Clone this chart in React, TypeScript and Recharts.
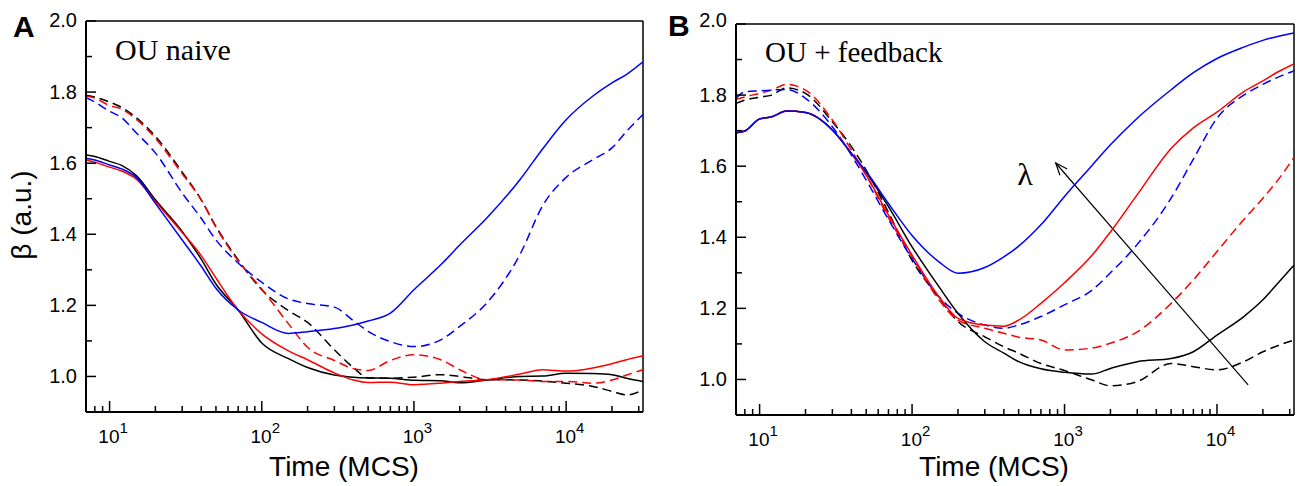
import { LineChart, Line, XAxis, YAxis, ReferenceLine } from "recharts";

const SANS = "'Liberation Sans', Arial, Helvetica, sans-serif";
const SERIF = "'Liberation Serif', 'Times New Roman', serif";

// time grid (MCS), shared by every curve
const time = [7, 8, 10, 12, 15, 20, 30, 40, 50, 70, 100, 150, 200, 300, 400, 500, 700, 1000, 1500, 2000, 3000, 5000, 7000, 10000, 15000, 20000, 25000, 32000];

// panel A: OU naive
const naiveBlack = [1.623, 1.619, 1.605, 1.594, 1.565, 1.497, 1.408, 1.33, 1.26, 1.187, 1.094, 1.05, 1.025, 1.004, 0.998, 0.996, 0.995, 0.989, 0.988, 0.982, 0.99, 1.0, 1.001, 1.009, 1.008, 1.005, 0.995, 0.986];
const naiveRed = [1.61, 1.603, 1.589, 1.578, 1.555, 1.492, 1.405, 1.34, 1.277, 1.187, 1.12, 1.072, 1.047, 1.01, 0.99, 0.983, 0.984, 0.977, 0.981, 0.986, 0.991, 1.007, 1.019, 1.015, 1.024, 1.036, 1.047, 1.058];
const naiveBlue = [1.614, 1.609, 1.595, 1.584, 1.56, 1.487, 1.384, 1.31, 1.248, 1.187, 1.152, 1.121, 1.126, 1.135, 1.145, 1.156, 1.178, 1.244, 1.314, 1.37, 1.445, 1.555, 1.64, 1.722, 1.789, 1.826, 1.85, 1.885];
const naiveBlackDash = [1.791, 1.786, 1.772, 1.757, 1.728, 1.676, 1.575, 1.497, 1.422, 1.328, 1.244, 1.185, 1.152, 1.075, 1.025, 0.996, 0.995, 0.998, 1.005, 1.0, 0.991, 0.99, 0.987, 0.981, 0.972, 0.958, 0.948, 0.962];
const naiveRedDash = [1.789, 1.783, 1.762, 1.752, 1.723, 1.67, 1.57, 1.497, 1.42, 1.325, 1.246, 1.148, 1.082, 1.045, 1.022, 1.017, 1.045, 1.061, 1.047, 1.019, 0.991, 0.99, 0.986, 0.986, 0.981, 0.99, 1.004, 1.019];
const naiveBlueDash = [1.784, 1.772, 1.746, 1.728, 1.685, 1.629, 1.516, 1.445, 1.384, 1.319, 1.265, 1.218, 1.205, 1.195, 1.157, 1.127, 1.098, 1.084, 1.103, 1.141, 1.206, 1.345, 1.48, 1.56, 1.61, 1.643, 1.69, 1.737];

// panel B: OU + feedback
const fbBlack = [1.694, 1.699, 1.733, 1.739, 1.755, 1.751, 1.702, 1.636, 1.582, 1.486, 1.373, 1.261, 1.186, 1.106, 1.074, 1.05, 1.03, 1.02, 1.015, 1.031, 1.05, 1.059, 1.078, 1.125, 1.177, 1.224, 1.27, 1.322];
const fbRed = [1.694, 1.699, 1.733, 1.739, 1.755, 1.751, 1.702, 1.636, 1.575, 1.462, 1.35, 1.233, 1.172, 1.153, 1.15, 1.167, 1.214, 1.272, 1.347, 1.415, 1.52, 1.65, 1.708, 1.752, 1.81, 1.84, 1.865, 1.888];
const fbBlue = [1.694, 1.699, 1.733, 1.739, 1.755, 1.751, 1.702, 1.636, 1.585, 1.495, 1.405, 1.331, 1.299, 1.315, 1.345, 1.375, 1.435, 1.515, 1.6, 1.66, 1.735, 1.815, 1.863, 1.903, 1.935, 1.954, 1.965, 1.975];
const fbBlackDash = [1.777, 1.786, 1.794, 1.8, 1.82, 1.805, 1.725, 1.655, 1.589, 1.47, 1.335, 1.23, 1.163, 1.12, 1.092, 1.074, 1.045, 1.025, 0.999, 0.982, 0.994, 1.045, 1.036, 1.027, 1.05, 1.078, 1.095, 1.111];
const fbRedDash = [1.788, 1.795, 1.805, 1.814, 1.83, 1.814, 1.73, 1.645, 1.575, 1.455, 1.345, 1.224, 1.167, 1.144, 1.13, 1.119, 1.111, 1.083, 1.088, 1.102, 1.134, 1.214, 1.28, 1.36, 1.45, 1.51, 1.56, 1.625];
const fbBlueDash = [1.791, 1.809, 1.812, 1.814, 1.816, 1.791, 1.711, 1.631, 1.561, 1.45, 1.34, 1.233, 1.186, 1.153, 1.144, 1.153, 1.177, 1.21, 1.25, 1.3, 1.38, 1.51, 1.62, 1.735, 1.8, 1.83, 1.85, 1.868];

const xTicks = [7, 8, 9, 10, 20, 30, 40, 50, 60, 70, 80, 90, 100, 200, 300, 400, 500, 600, 700, 800, 900, 1000, 2000, 3000, 4000, 5000, 6000, 7000, 8000, 9000, 10000, 20000, 30000];
const yTicks = [1.0, 1.1, 1.2, 1.3, 1.4, 1.5, 1.6, 1.7, 1.8, 1.9, 2.0];

// arrow in panel B, from tail to head (time, beta)
const lambdaArrow = [{ x: 16000, y: 0.985 }, { x: 875, y: 1.609 }];

function makeRows(s: number[][]) {
  return time.map((t, i) => ({
    t,
    black: s[0][i],
    red: s[1][i],
    blue: s[2][i],
    blackDash: s[3][i],
    redDash: s[4][i],
    blueDash: s[5][i],
  }));
}

const rowsA = makeRows([naiveBlack, naiveRed, naiveBlue, naiveBlackDash, naiveRedDash, naiveBlueDash]);
const rowsB = makeRows([fbBlack, fbRed, fbBlue, fbBlackDash, fbRedDash, fbBlueDash]);

function XTick(props: any) {
  const { x, y, payload } = props;
  const lg = Math.log10(payload.value);
  const exp = Math.round(lg);
  const major = Math.abs(lg - exp) < 1e-9;
  return (
    <g>
      <line x1={x} x2={x} y1={y} y2={y - (major ? 11 : 6)} stroke="#000" strokeWidth={1.5} />
      {major && (
        <text x={x + 3.5} y={y + 31} textAnchor="middle" fontSize={19} fontFamily={SANS} fill="#000">
          10
          <tspan fontSize={15} dy={-10}>{exp}</tspan>
        </text>
      )}
    </g>
  );
}

// the top label sits a bit above the frame in the original
const makeYTick = (topShift: number) => (props: any) => {
  const { x, y, payload } = props;
  const v = payload.value;
  const major = Math.abs(v * 5 - Math.round(v * 5)) < 1e-6;
  const dy = v >= 2 ? 7 - topShift : 7;
  return (
    <g>
      <line x1={x} x2={x + (major ? 10 : 6)} y1={y} y2={y} stroke="#000" strokeWidth={1.5} />
      {major && (
        <text x={x - 9} y={y + dy} textAnchor="end" fontSize={20} fontFamily={SANS} fill="#000">
          {v.toFixed(1)}
        </text>
      )}
    </g>
  );
};

function Arrow(props: any) {
  const { x1, y1, x2, y2 } = props;
  const a = Math.atan2(y2 - y1, x2 - x1);
  const len = 13;
  const spread = 0.38;
  const p1 = [x2 - len * Math.cos(a - spread), y2 - len * Math.sin(a - spread)];
  const p2 = [x2 - len * Math.cos(a + spread), y2 - len * Math.sin(a + spread)];
  return (
    <g stroke="#000" strokeWidth={1.2} fill="none">
      <line x1={x1} y1={y1} x2={x2} y2={y2} />
      <polyline points={`${p1[0]},${p1[1]} ${x2},${y2} ${p2[0]},${p2[1]}`} />
    </g>
  );
}

function Panel({ rows, margin, arrow, topShift }: { rows: any[]; margin: any; arrow?: boolean; topShift: number }) {
  return (
    <LineChart width={650} height={486} data={rows} margin={margin}>
      <XAxis
        dataKey="t"
        type="number"
        scale="log"
        domain={[7, 32000]}
        allowDataOverflow
        ticks={xTicks}
        interval={0}
        height={30}
        tickSize={0}
        tickMargin={0}
        tickLine={false}
        tick={XTick}
        axisLine={{ stroke: "#000", strokeWidth: 2 }}
      />
      <YAxis
        type="number"
        domain={[0.9, 2.0]}
        allowDataOverflow
        ticks={yTicks}
        interval={0}
        width={30}
        tickSize={0}
        tickMargin={0}
        tickLine={false}
        tick={makeYTick(topShift)}
        axisLine={{ stroke: "#000", strokeWidth: 2 }}
      />
      <ReferenceLine y={2.0} stroke="#000" strokeWidth={1.5} />
      <ReferenceLine x={32000} stroke="#000" strokeWidth={1.5} />
      {arrow && <ReferenceLine segment={lambdaArrow} shape={Arrow} />}
      <Line dataKey="blackDash" stroke="#000" strokeWidth={1.5} strokeDasharray="9 5" type="monotone" dot={false} isAnimationActive={false} />
      <Line dataKey="redDash" stroke="#ff0000" strokeWidth={1.5} strokeDasharray="9 5" type="monotone" dot={false} isAnimationActive={false} />
      <Line dataKey="blueDash" stroke="#0000ff" strokeWidth={1.5} strokeDasharray="9 5" type="monotone" dot={false} isAnimationActive={false} />
      <Line dataKey="black" stroke="#000" strokeWidth={1.5} type="monotone" dot={false} isAnimationActive={false} />
      <Line dataKey="red" stroke="#ff0000" strokeWidth={1.5} type="monotone" dot={false} isAnimationActive={false} />
      <Line dataKey="blue" stroke="#0000ff" strokeWidth={1.5} type="monotone" dot={false} isAnimationActive={false} />
    </LineChart>
  );
}

export default function App() {
  return (
    <div style={{ position: "absolute", left: 0, top: 0, width: 1300, height: 486, background: "#fff" }}>
      <div style={{ position: "absolute", left: 0, top: 0 }}>
        <Panel rows={rowsA} margin={{ top: 21, right: 7, bottom: 44, left: 56 }} topShift={1} />
      </div>
      <div style={{ position: "absolute", left: 650, top: 0 }}>
        <Panel rows={rowsB} margin={{ top: 24, right: 6, bottom: 41, left: 56 }} topShift={4} arrow />
      </div>
      <svg width={1300} height={486} style={{ position: "absolute", left: 0, top: 0, pointerEvents: "none" }}>
        <text x={13} y={37} fontSize={30} fontWeight="bold" fontFamily={SANS}>A</text>
        <text x={668} y={36} fontSize={30} fontWeight="bold" fontFamily={SANS}>B</text>
        <text x={115} y={60} fontSize={30} fontFamily={SERIF}>OU naive</text>
        <text x={765} y={62} fontSize={29} fontFamily={SERIF}>OU + feedback</text>
        <text x={1025} y={185} fontSize={32} fontFamily={SERIF} textAnchor="middle">λ</text>
        <text x={344} y={476} fontSize={28} fontFamily={SANS} textAnchor="middle">Time (MCS)</text>
        <text x={994} y={476} fontSize={28} fontFamily={SANS} textAnchor="middle">Time (MCS)</text>
        <text x={31} y={215} fontSize={28} fontFamily={SANS} textAnchor="middle" transform="rotate(-90 31 215)">β (a.u.)</text>
      </svg>
    </div>
  );
}
